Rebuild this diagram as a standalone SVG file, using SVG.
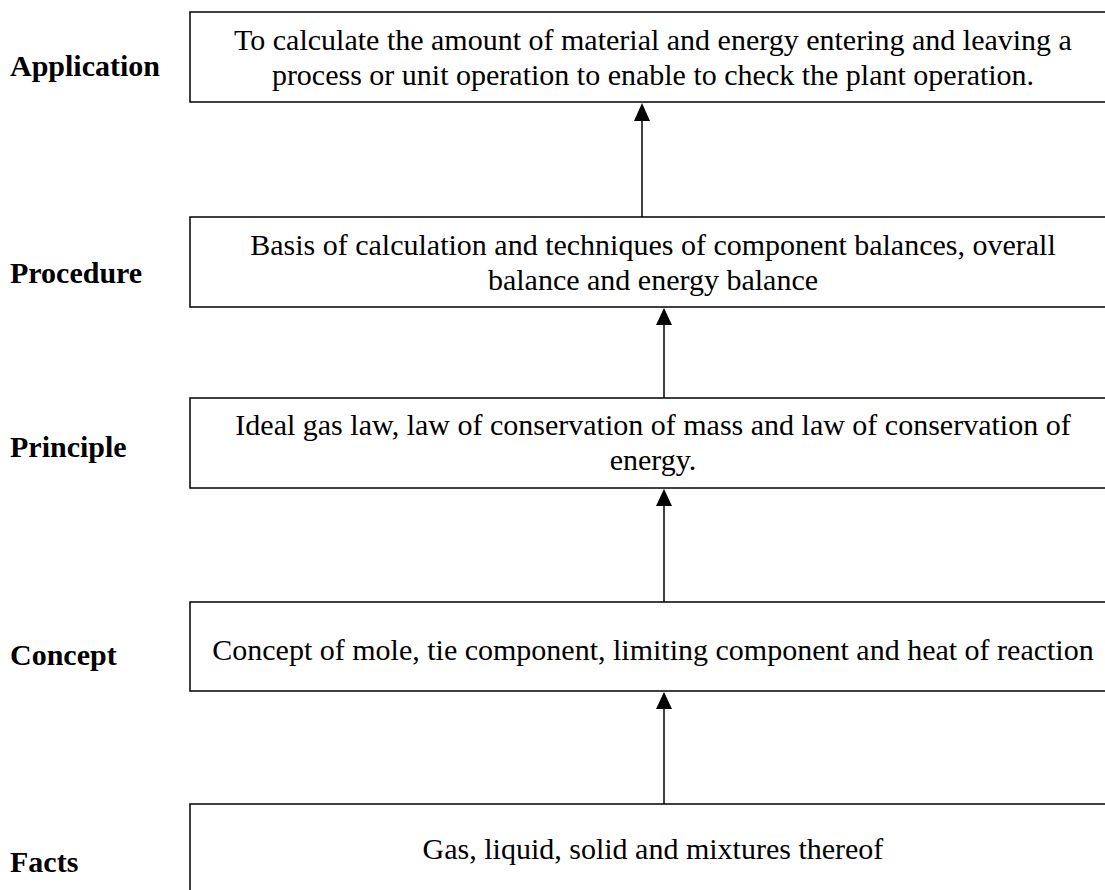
<svg xmlns="http://www.w3.org/2000/svg" width="1105" height="890" viewBox="0 0 1105 890">
<style>
.box{fill:#fff;stroke:#000;stroke-width:1.5}
.t{font-family:"Liberation Serif","Times New Roman",serif;font-size:30px;fill:#000;text-anchor:middle}
.lbl{font-family:"Liberation Serif","Times New Roman",serif;font-size:30px;font-weight:bold;fill:#000}
.conn{stroke:#000;stroke-width:1.5;fill:none}
.head{fill:#000}
</style>
<rect width="1105" height="890" fill="#fff"/>
<g id="connectors">
<line class="conn" x1="642" y1="217" x2="642" y2="110"/>
<line class="conn" x1="664" y1="398" x2="664" y2="315"/>
<line class="conn" x1="664" y1="602" x2="664" y2="496"/>
<line class="conn" x1="664" y1="804" x2="664" y2="699"/>
<path class="head" d="M642,103 L634,121 L650,121 Z"/>
<path class="head" d="M664,308 L656,325 L672,325 Z"/>
<path class="head" d="M664,489 L656,506 L672,506 Z"/>
<path class="head" d="M664,692 L656,709 L672,709 Z"/>
</g>
<g id="application">
<text class="lbl" x="10" y="76">Application</text>
<rect class="box" x="190" y="12" width="930" height="90"/>
<text class="t" x="653" y="50">To calculate the amount of material and energy entering and leaving a</text>
<text class="t" x="653" y="85">process or unit operation to enable to check the plant operation.</text>
</g>
<g id="procedure">
<text class="lbl" x="10" y="283">Procedure</text>
<rect class="box" x="190" y="217" width="930" height="90"/>
<text class="t" x="653" y="255">Basis of calculation and techniques of component balances, overall</text>
<text class="t" x="653" y="290">balance and energy balance</text>
</g>
<g id="principle">
<text class="lbl" x="10" y="457">Principle</text>
<rect class="box" x="190" y="398" width="930" height="90"/>
<text class="t" x="653" y="435">Ideal gas law, law of conservation of mass and law of conservation of</text>
<text class="t" x="653" y="470">energy.</text>
</g>
<g id="concept">
<text class="lbl" x="10" y="665">Concept</text>
<rect class="box" x="190" y="602" width="930" height="89"/>
<text class="t" x="653" y="660">Concept of mole, tie component, limiting component and heat of reaction</text>
</g>
<g id="facts">
<text class="lbl" x="10" y="872">Facts</text>
<rect class="box" x="190" y="804" width="930" height="100"/>
<text class="t" x="653" y="859">Gas, liquid, solid and mixtures thereof</text>
</g>
</svg>
